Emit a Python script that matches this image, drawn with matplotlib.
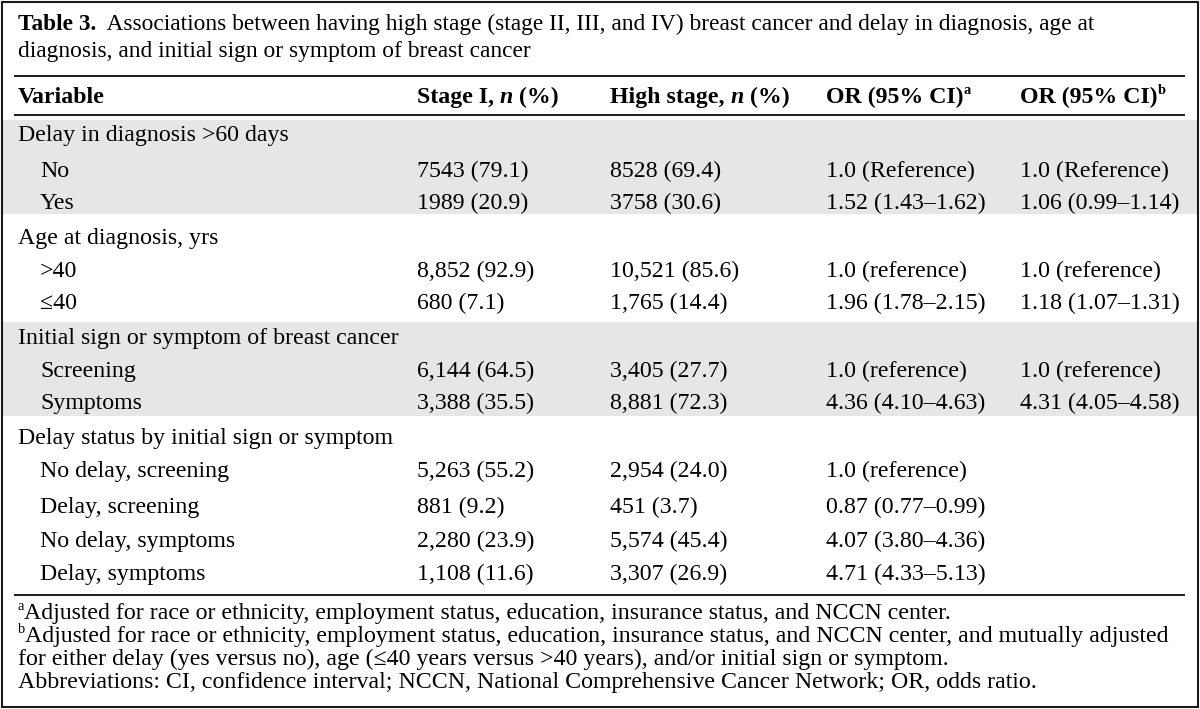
import matplotlib
matplotlib.use('Agg')
import matplotlib.pyplot as plt
from matplotlib.patches import Rectangle

plt.rcParams['font.family'] = ['Liberation Serif', 'DejaVu Serif']

# table content
title_bold = 'Table 3.'
title_line1 = '  Associations between having high stage (stage II, III, and IV) breast cancer and delay in diagnosis, age at'
title_line2 = 'diagnosis, and initial sign or symptom of breast cancer'

groups = ['Delay in diagnosis >60 days',
          'Age at diagnosis, yrs',
          'Initial sign or symptom of breast cancer',
          'Delay status by initial sign or symptom']
shaded = [True, False, True, False]

labels = [['No', 'Yes'],
          ['>40', '≤40'],
          ['Screening', 'Symptoms'],
          ['No delay, screening', 'Delay, screening', 'No delay, symptoms', 'Delay, symptoms']]
stage1 = [['7543 (79.1)', '1989 (20.9)'],
          ['8,852 (92.9)', '680 (7.1)'],
          ['6,144 (64.5)', '3,388 (35.5)'],
          ['5,263 (55.2)', '881 (9.2)', '2,280 (23.9)', '1,108 (11.6)']]
high_stage = [['8528 (69.4)', '3758 (30.6)'],
              ['10,521 (85.6)', '1,765 (14.4)'],
              ['3,405 (27.7)', '8,881 (72.3)'],
              ['2,954 (24.0)', '451 (3.7)', '5,574 (45.4)', '3,307 (26.9)']]
or_a = [['1.0 (Reference)', '1.52 (1.43–1.62)'],
        ['1.0 (reference)', '1.96 (1.78–2.15)'],
        ['1.0 (reference)', '4.36 (4.10–4.63)'],
        ['1.0 (reference)', '0.87 (0.77–0.99)', '4.07 (3.80–4.36)', '4.71 (4.33–5.13)']]
or_b = [['1.0 (Reference)', '1.06 (0.99–1.14)'],
        ['1.0 (reference)', '1.18 (1.07–1.31)'],
        ['1.0 (reference)', '4.31 (4.05–4.58)'],
        ['', '', '', '']]

footnotes = [
    ('a', 'Adjusted for race or ethnicity, employment status, education, insurance status, and NCCN center.'),
    ('b', 'Adjusted for race or ethnicity, employment status, education, insurance status, and NCCN center, and mutually adjusted'),
    ('', 'for either delay (yes versus no), age (≤40 years versus >40 years), and/or initial sign or symptom.'),
    ('', 'Abbreviations: CI, confidence interval; NCCN, National Comprehensive Cancer Network; OR, odds ratio.'),
]

FS = 17.2
col_x = [18, 417, 610, 826, 1020]
indent = 40

fig = plt.figure(figsize=(12, 7.09), dpi=100)
ax = fig.add_axes([0, 0, 1, 1])
ax.set_xlim(0, 1200)
ax.set_ylim(709, 0)
ax.axis('off')
renderer = fig.canvas.get_renderer()


def runs(x, y, parts, size=FS):
    # parts: (text, weight, style, superscript)
    for txt, w, st, sup in parts:
        if sup:
            t = ax.text(x, y - 9, txt, fontsize=size * 0.6, fontweight=w, va='baseline')
        else:
            t = ax.text(x, y, txt, fontsize=size, fontweight=w, fontstyle=st, va='baseline')
        x += t.get_window_extent(renderer).width
    return x


# outer frame
ax.add_patch(Rectangle((1.5, 1.5), 1196, 705, fill=False, lw=1.5, ec='#1a1a1a'))

# title
TFS = 16.8
runs(18, 30, [(title_bold, 'bold', 'normal', False), (title_line1, 'normal', 'normal', False)], size=TFS)
ax.text(18, 57, title_line2, fontsize=TFS, va='baseline')

ax.plot([15, 1184], [76, 76], color='#1a1a1a', lw=1.4)
hy = 103
ax.text(col_x[0], hy, 'Variable', fontsize=FS, fontweight='bold', va='baseline')
runs(col_x[1], hy, [('Stage I, ', 'bold', 'normal', False), ('n', 'bold', 'italic', False), (' (%)', 'bold', 'normal', False)])
runs(col_x[2], hy, [('High stage, ', 'bold', 'normal', False), ('n', 'bold', 'italic', False), (' (%)', 'bold', 'normal', False)])
runs(col_x[3], hy, [('OR (95% CI)', 'bold', 'normal', False), ('a', 'bold', 'normal', True)])
runs(col_x[4], hy, [('OR (95% CI)', 'bold', 'normal', False), ('b', 'bold', 'normal', True)])
ax.plot([15, 1184], [115, 115], color='#1a1a1a', lw=1.4)

# body rows (baselines)
group_y = [141, 244, 344, 444]
child_y = [[177, 209], [277, 309], [377, 409], [477, 513, 547, 580]]
bands = [(120, 214), None, (322, 416), None]

for g in range(len(groups)):
    if shaded[g]:
        y0, y1 = bands[g]
        ax.add_patch(Rectangle((2.5, y0), 1194, y1 - y0, color='#e6e6e6', lw=0, zorder=0))
    ax.text(col_x[0], group_y[g], groups[g], fontsize=FS, va='baseline')
    for i, lab in enumerate(labels[g]):
        y = child_y[g][i]
        ax.text(indent, y, lab, fontsize=FS, va='baseline')
        ax.text(col_x[1], y, stage1[g][i], fontsize=FS, va='baseline')
        ax.text(col_x[2], y, high_stage[g][i], fontsize=FS, va='baseline')
        ax.text(col_x[3], y, or_a[g][i], fontsize=FS, va='baseline')
        ax.text(col_x[4], y, or_b[g][i], fontsize=FS, va='baseline')

ax.plot([15, 1184], [595, 595], color='#1a1a1a', lw=1.4)

# footnotes
fy = [619, 642, 665, 688]
for (sup, txt), y in zip(footnotes, fy):
    parts = []
    if sup:
        parts.append((sup, 'normal', 'normal', True))
    parts.append((txt, 'normal', 'normal', False))
    runs(18, y, parts)

fig.savefig('out.png', dpi=100)
